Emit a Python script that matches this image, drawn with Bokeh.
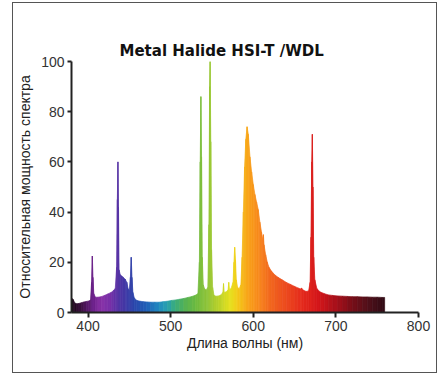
import numpy as np
from bokeh.plotting import figure
from bokeh.models import Range1d, LinearColorMapper, ColumnDataSource, FixedTicker
from bokeh.transform import transform
from bokeh.embed import file_html
from bokeh.resources import INLINE

# ---- data ----
TITLE = "Metal Halide HSI-T /WDL"
X_LABEL = "Длина волны (нм)"
Y_LABEL = "Относительная мощность спектра"
X_TICKS = [400, 500, 600, 700, 800]
Y_TICKS = [0, 20, 40, 60, 80, 100]

wavelength = [
    380, 382, 384, 386, 389, 392, 395, 398, 401, 403, 404.3, 405.2, 406, 407, 409,
    412, 416, 420, 424, 428, 431, 433, 434.6, 435.5, 436.2, 436.9, 437.6, 439, 442,
    445, 447, 448.5, 450, 451.3, 452.3, 453.2, 454.3, 456, 459, 463, 467, 471, 476,
    481, 486, 491, 496, 501, 506, 511, 516, 521, 526, 530, 533, 534.8, 535.8, 536.6,
    537.4, 538.3, 539.5, 541, 543, 545, 546.3, 547.2, 547.8, 548.6, 549.5, 550.8,
    552.5, 555, 558, 561, 563.2, 564, 564.8, 567, 569.5, 570.3, 571.2, 573, 575.5,
    576.6, 577.5, 578.5, 579.5, 581, 583, 585, 586.5, 588, 589.5, 591, 592.5, 594,
    596, 598, 600, 602, 604, 606, 608, 610, 611.5, 612.3, 613, 615, 617, 619, 622,
    626, 630, 635, 640, 645, 650, 654, 657, 658.5, 661, 664, 667, 668.8, 669.8,
    670.8, 671.5, 672.3, 673.2, 674.5, 677, 681, 686, 691, 696, 702, 708, 714, 720,
    726, 732, 738, 744, 750, 756, 759,
]
power = [
    5.8, 5.2, 3.8, 3.5, 3.6, 3.9, 4.2, 4.4, 4.6, 5.0, 12, 22.5, 14, 7.5, 6.1,
    6.1, 6.3, 6.8, 7.4, 8.0, 8.8, 9.6, 18, 45, 60, 42, 17, 15, 14.2,
    13.2, 12.0, 9.5, 8.8, 14, 22, 14, 8, 5.8, 4.8, 4.5, 4.3, 4.2, 4.1,
    4.1, 4.1, 4.3, 4.5, 4.8, 5.0, 5.3, 5.6, 6.0, 6.4, 6.9, 7.5, 20, 60, 86,
    62, 22, 11, 9.5, 9.0, 10, 35, 90, 100, 68, 25, 10,
    6.8, 6.5, 6.6, 7.0, 8, 11.5, 8, 8.2, 9, 12, 9, 9.5, 12,
    20, 26, 21, 13, 10, 9.5, 11, 22, 40, 58, 69, 74, 71,
    62, 56, 51, 47, 44, 41, 36, 32, 29, 31, 27, 23, 20, 18, 16.5,
    15, 14, 13, 12, 11.2, 10.4, 9.8, 9.4, 9.7, 8.8, 8.4, 8.6, 12, 30,
    60, 71, 50, 22, 13, 9.5, 8.2, 7.5, 7.0, 6.8, 6.6, 6.5, 6.4, 6.3,
    6.3, 6.2, 6.2, 6.1, 6.1, 6.0, 6.0,
]

# ---- style: colour of light by wavelength ----
stop_wl = [380, 392, 405, 415, 425, 440, 455, 470, 485, 495, 505, 515, 530, 545,
           560, 572, 582, 592, 605, 620, 640, 660, 680, 700, 720, 740, 760]
stop_col = ["#1c0818", "#3c1040", "#6a2088", "#8a32a8", "#7a30a8", "#4a34a4",
            "#2c44aa", "#2060b8", "#2088c0", "#28a0b0", "#38ac80", "#50b058",
            "#6cba40", "#90c438", "#c0d428", "#e6e020", "#f4c818", "#f8a818",
            "#f88c1c", "#f26a1e", "#ec4a1e", "#e42a1c", "#d4161a", "#a8101a",
            "#7a0e18", "#50101a", "#300a14"]


def _rgb(h):
    return [int(h[i:i + 2], 16) for i in (1, 3, 5)]


_stops = np.array([_rgb(c) for c in stop_col], dtype=float)
_grid = np.linspace(stop_wl[0], stop_wl[-1], 256)
palette = []
for g in _grid:
    r, gg, b = (np.interp(g, stop_wl, _stops[:, k]) for k in range(3))
    palette.append("#%02x%02x%02x" % (int(round(r)), int(round(gg)), int(round(b))))
mapper = LinearColorMapper(palette=palette, low=stop_wl[0], high=stop_wl[-1])

# segments of the spectrum, each coloured by its wavelength
xs, ys, mid = [], [], []
for i in range(len(wavelength) - 1):
    x0, x1 = wavelength[i], wavelength[i + 1]
    xs.append([x0, x0, x1, x1])
    ys.append([0, power[i], power[i + 1], 0])
    mid.append((x0 + x1) / 2)
src = ColumnDataSource(dict(xs=xs, ys=ys, mid=mid))

p = figure(width=425, height=371, output_backend="svg", toolbar_location=None,
           x_range=Range1d(380, 800), y_range=Range1d(0, 100),
           min_border_left=58, min_border_right=20, min_border_top=58,
           min_border_bottom=62, title=TITLE)
p.styles = {"border": "1.5px solid #555555", "margin-left": "12px", "margin-top": "2px"}
p.background_fill_color = "white"
p.border_fill_color = "white"
p.outline_line_color = None
p.grid.visible = False

p.title.align = "left"
p.title.offset = 48
p.title.standoff = 4
p.title.text_font = "DejaVu Sans"
p.title.text_font_style = "bold"
p.title.text_font_size = "15px"
p.title.text_color = "#111111"

p.patches("xs", "ys", source=src, fill_color=transform("mid", mapper),
          line_color=transform("mid", mapper), line_width=0.7)

for ax in (p.xaxis[0], p.yaxis[0]):
    ax.axis_line_color = "#222222"
    ax.axis_line_width = 2
    ax.major_tick_line_color = "#222222"
    ax.major_tick_line_width = 2
    ax.major_tick_in = 0
    ax.minor_tick_line_color = None
    ax.major_label_text_font = "Liberation Sans"
    ax.major_label_text_font_size = "14px"
    ax.major_label_text_color = "#333333"
    ax.axis_label_text_font = "Liberation Sans"
    ax.axis_label_text_font_size = "14px"
    ax.axis_label_text_font_style = "normal"
    ax.axis_label_text_color = "#222222"

p.xaxis.ticker = FixedTicker(ticks=X_TICKS)
p.yaxis.ticker = FixedTicker(ticks=Y_TICKS)
p.xaxis.major_tick_out = 5
p.yaxis.major_tick_out = 4
p.xaxis.major_label_standoff = 3
p.yaxis.major_label_standoff = 3
p.xaxis.axis_label = X_LABEL
p.yaxis.axis_label = Y_LABEL
p.xaxis.axis_label_standoff = 1
p.yaxis.axis_label_standoff = 5

open("out.html", "w").write(file_html(p, INLINE))
